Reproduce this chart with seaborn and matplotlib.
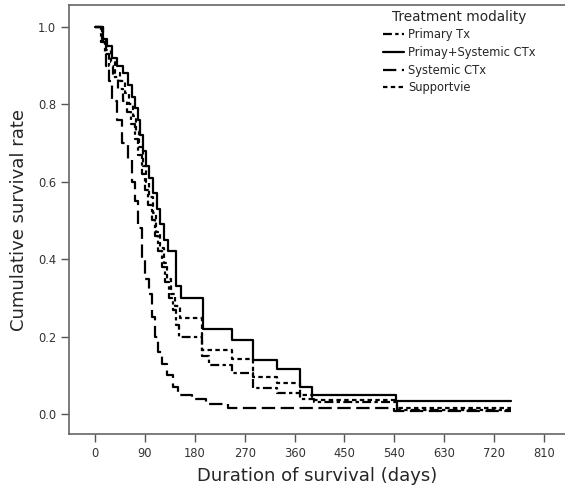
import pandas as pd
import numpy as np
import seaborn as sns
import matplotlib
matplotlib.use('Agg')
import matplotlib.pyplot as plt

#############################################
# Kaplan-Meier step values
#############################################
groups = ['Primary Tx', 'Primay+Systemic CTx', 'Systemic CTx', 'Supportvie']

days_primary = [0, 10, 18, 25, 33, 42, 50, 58, 65, 72, 78, 84, 90, 96, 102, 108,
                114, 120, 127, 134, 140, 146, 152, 193, 206, 247, 285, 328, 370,
                395, 545, 750]
surv_primary = [1.0, 0.96, 0.93, 0.90, 0.87, 0.84, 0.81, 0.78, 0.75, 0.71, 0.67,
                0.62, 0.58, 0.54, 0.50, 0.46, 0.42, 0.38, 0.34, 0.30, 0.27, 0.23,
                0.20, 0.15, 0.127, 0.106, 0.067, 0.054, 0.04, 0.03, 0.01, 0.01]

days_combined = [0, 15, 22, 30, 40, 50, 60, 67, 72, 77, 82, 87, 92, 98, 105, 112,
                 118, 124, 131, 146, 155, 194, 247, 285, 328, 370, 391, 543, 750]
surv_combined = [1.0, 0.97, 0.95, 0.92, 0.90, 0.88, 0.85, 0.82, 0.79, 0.76, 0.72,
                 0.68, 0.64, 0.61, 0.57, 0.53, 0.49, 0.45, 0.42, 0.33, 0.30, 0.22,
                 0.19, 0.14, 0.115, 0.07, 0.05, 0.034, 0.034]

days_systemic = [0, 15, 20, 25, 30, 40, 48, 60, 66, 72, 78, 84, 90, 97, 103, 108,
                 114, 120, 130, 140, 150, 175, 200, 240, 540, 750]
surv_systemic = [1.0, 0.96, 0.90, 0.86, 0.81, 0.76, 0.70, 0.66, 0.60, 0.55, 0.48,
                 0.40, 0.35, 0.31, 0.25, 0.20, 0.16, 0.13, 0.10, 0.07, 0.05, 0.04,
                 0.025, 0.015, 0.008, 0.008]

days_support = [0, 12, 20, 28, 36, 45, 55, 62, 68, 74, 80, 86, 92, 98, 104, 110,
                117, 124, 130, 137, 144, 153, 193, 247, 285, 328, 370, 391, 545, 750]
surv_support = [1.0, 0.97, 0.94, 0.91, 0.88, 0.86, 0.83, 0.80, 0.77, 0.73, 0.69,
                0.64, 0.60, 0.56, 0.52, 0.47, 0.43, 0.39, 0.35, 0.31, 0.28, 0.248,
                0.165, 0.142, 0.096, 0.08, 0.05, 0.036, 0.015, 0.015]

x_ticks = list(range(0, 811, 90))
y_ticks = [0.0, 0.2, 0.4, 0.6, 0.8, 1.0]

# long table for seaborn
frames = []
for g, d, s in zip(groups,
                   [days_primary, days_combined, days_systemic, days_support],
                   [surv_primary, surv_combined, surv_systemic, surv_support]):
    frames.append(pd.DataFrame({'day': d, 'surv': s, 'group': g}))
df = pd.concat(frames, ignore_index=True)

sns.set_style('white')
plt.rcParams['font.family'] = ['DejaVu Sans']

fig = plt.figure(figsize=(5.65, 4.95), dpi=100)
ax = fig.add_axes([0.123, 0.123, 0.877, 0.867])

dash_map = {
    'Primary Tx': (4, 1.5, 1.5, 1.5),
    'Primay+Systemic CTx': '',
    'Systemic CTx': (6, 2.5),
    'Supportvie': (2, 1.5),
}
sns.lineplot(data=df, x='day', y='surv', style='group', style_order=groups,
             dashes=dash_map, color='black', linewidth=1.6, estimator=None,
             sort=False, drawstyle='steps-post', ax=ax)

ax.set_xlim(-46, 848)
ax.set_ylim(-0.052, 1.057)
ax.set_xticks(x_ticks)
ax.set_yticks(y_ticks)
ax.set_yticklabels([f'{v:.1f}' for v in y_ticks])
ax.tick_params(axis='both', direction='out', length=6, width=1, color='#555555',
               labelsize=8.3, labelcolor='#333333', left=True, bottom=True)
for side in ['left', 'bottom', 'top']:
    ax.spines[side].set_color('#666666')
    ax.spines[side].set_linewidth(1.2)
ax.spines['right'].set_visible(False)

ax.set_xlabel('Duration of survival (days)', fontsize=13, labelpad=5)
ax.set_ylabel('Cumulative survival rate', fontsize=13, labelpad=7)

handles, labels = ax.get_legend_handles_labels()
leg = ax.legend(handles, labels, title='Treatment modality', loc='upper right',
                bbox_to_anchor=(0.96, 1.01), frameon=False, fontsize=8.3,
                title_fontsize=9.8, handlelength=1.8, handletextpad=0.4,
                labelspacing=0.4, borderaxespad=0.4)

plt.savefig('out.png', dpi=100)
